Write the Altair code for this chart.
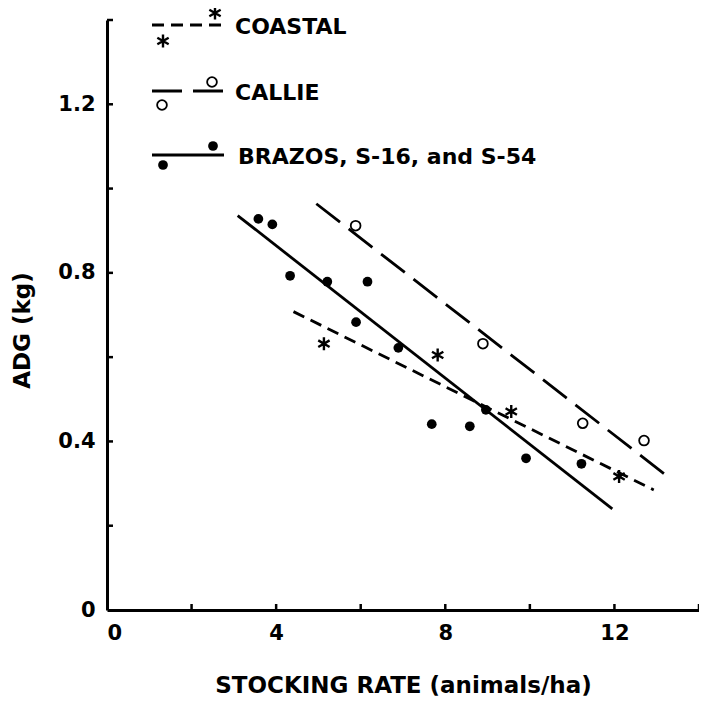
import altair as alt
import pandas as pd

# ---- data ----
# Brazos, S-16 and S-54 (filled circles)
brazos_x = [3.58, 3.91, 4.33, 5.21, 6.16, 5.89, 6.89, 7.68, 8.58, 8.96, 9.91, 11.22]
brazos_y = [0.928, 0.915, 0.793, 0.779, 0.779, 0.683, 0.622, 0.441, 0.436, 0.475, 0.360, 0.347]
# Callie (open circles)
callie_x = [5.88, 8.89, 11.25, 12.70]
callie_y = [0.912, 0.632, 0.443, 0.402]
# Coastal (asterisks)
coastal_x = [5.13, 7.82, 9.56, 12.11]
coastal_y = [0.632, 0.605, 0.471, 0.317]

# regression lines (end points)
brazos_line_x = [3.09, 11.95]
brazos_line_y = [0.936, 0.240]
coastal_line_x = [4.41, 12.93]
coastal_line_y = [0.708, 0.285]
callie_line_x = [4.95, 13.36]
callie_line_y = [0.964, 0.309]

x_label_values = [0, 4, 8, 12]
x_tick_values = [2, 4, 6, 8, 10, 12, 14]
y_label_values = [0, 0.4, 0.8, 1.2]
y_tick_values = [0.2, 0.4, 0.6, 0.8, 1.0, 1.2, 1.4]
legend_labels = ["COASTAL", "CALLIE", "BRAZOS, S-16, and S-54"]

# ---- layout / style ----
W, H = 592, 590
FONT = "DejaVu Sans"
STAR = "M0,-1L0,1M-0.87,-0.5L0.87,0.5M-0.87,0.5L0.87,-0.5"
DASH_COASTAL = [12, 7]
DASH_CALLIE = [30, 11]
STAR_SIZE = 170
CIRCLE_SIZE = 95

xs = alt.Scale(domain=[0, 14], nice=False, zero=False)
ys = alt.Scale(domain=[0, 1.4], nice=False, zero=False)

x_axis = alt.Axis(
    values=x_label_values, format="d", ticks=False, grid=False,
    domainColor="black", domainWidth=3, labelFont=FONT, labelFontSize=21,
    labelFontWeight="bold", labelColor="black", labelPadding=12,
    title="STOCKING RATE  (animals/ha)", titleFont=FONT, titleFontSize=23,
    titleFontWeight="bold", titleColor="black", titleY=75, titleBaseline="middle",
)
y_axis = alt.Axis(
    values=y_label_values, ticks=False, grid=False,
    labelExpr="datum.value == 0 ? '0' : format(datum.value, '.1f')",
    domainColor="black", domainWidth=3, labelFont=FONT, labelFontSize=21,
    labelFontWeight="bold", labelColor="black", labelPadding=12,
    title="ADG  (kg)", titleFont=FONT, titleFontSize=23, titleFontWeight="bold",
    titleColor="black", titleX=-85, titleY=310, titleAngle=270,
    titleAlign="center", titleBaseline="middle",
)
X = alt.X("x:Q", scale=xs, axis=x_axis)
Y = alt.Y("y:Q", scale=ys, axis=y_axis)


def df(xv, yv):
    return pd.DataFrame({"x": xv, "y": yv})


def star_mark(data):
    return alt.Chart(data).mark_point(shape=STAR, filled=False, color="black",
                                      size=STAR_SIZE, strokeWidth=2.4, opacity=1)


def open_mark(data):
    return alt.Chart(data).mark_point(shape="circle", filled=False, color="black",
                                      size=CIRCLE_SIZE, strokeWidth=1.8, opacity=1)


def dot_mark(data):
    return alt.Chart(data).mark_point(shape="circle", filled=True, color="black",
                                      size=CIRCLE_SIZE, opacity=1)


layers = []

# regression lines
layers.append(alt.Chart(df(brazos_line_x, brazos_line_y)).mark_line(
    color="black", strokeWidth=2.8).encode(x=X, y=Y))
layers.append(alt.Chart(df(coastal_line_x, coastal_line_y)).mark_line(
    color="black", strokeWidth=2.8, strokeDash=DASH_COASTAL).encode(x=X, y=Y))
layers.append(alt.Chart(df(callie_line_x, callie_line_y)).mark_line(
    color="black", strokeWidth=2.8, strokeDash=DASH_CALLIE).encode(x=X, y=Y))

# points
layers.append(dot_mark(df(brazos_x, brazos_y)).encode(x=X, y=Y))
layers.append(open_mark(df(callie_x, callie_y)).encode(x=X, y=Y))
layers.append(star_mark(df(coastal_x, coastal_y)).encode(x=X, y=Y))

# inward ticks
layers.append(alt.Chart(pd.DataFrame({"y": y_tick_values})).mark_rule(
    color="black", strokeWidth=2.5).encode(y=Y, x=alt.value(0), x2=alt.value(6)))
layers.append(alt.Chart(pd.DataFrame({"x": x_tick_values})).mark_rule(
    color="black", strokeWidth=2.5).encode(x=X, y=alt.value(H), y2=alt.value(H - 6)))

# legend (drawn in the upper-left corner of the plot)
legend_rows = [
    # label, line y, dash, symbol maker, symbol A (x,y), symbol B (x,y), text x
    (legend_labels[0], 5, DASH_COASTAL, star_mark, (56, 21), (108, -7), 128),
    (legend_labels[1], 71, DASH_CALLIE, open_mark, (55, 85), (105, 62), 128),
    (legend_labels[2], 135, None, dot_mark, (56, 145), (106, 126), 131),
]
one = pd.DataFrame({"k": [0]})
for label, ly, dash, maker, pa, pb, tx in legend_rows:
    kw = dict(color="black", strokeWidth=2.8)
    if dash:
        kw["strokeDash"] = dash
    layers.append(alt.Chart(one).mark_rule(**kw).encode(
        x=alt.value(45), x2=alt.value(117), y=alt.value(ly)))
    for (px, py) in (pa, pb):
        layers.append(maker(one).encode(x=alt.value(px), y=alt.value(py)))
    layers.append(alt.Chart(pd.DataFrame({"label": [label]})).mark_text(
        font=FONT, fontSize=22, fontWeight="bold", color="black", align="left",
        baseline="middle").encode(x=alt.value(tx), y=alt.value(ly + 2), text="label:N"))

chart = alt.layer(*layers).properties(
    width=W, height=H,
    background="white",
    autosize=alt.AutoSizeParams(type="none"),
    padding={"left": 99, "top": 12, "right": 0, "bottom": 92},
).configure_view(stroke=None, strokeWidth=0)

chart.save("out.html", embed_options={"renderer": "svg", "actions": False})
